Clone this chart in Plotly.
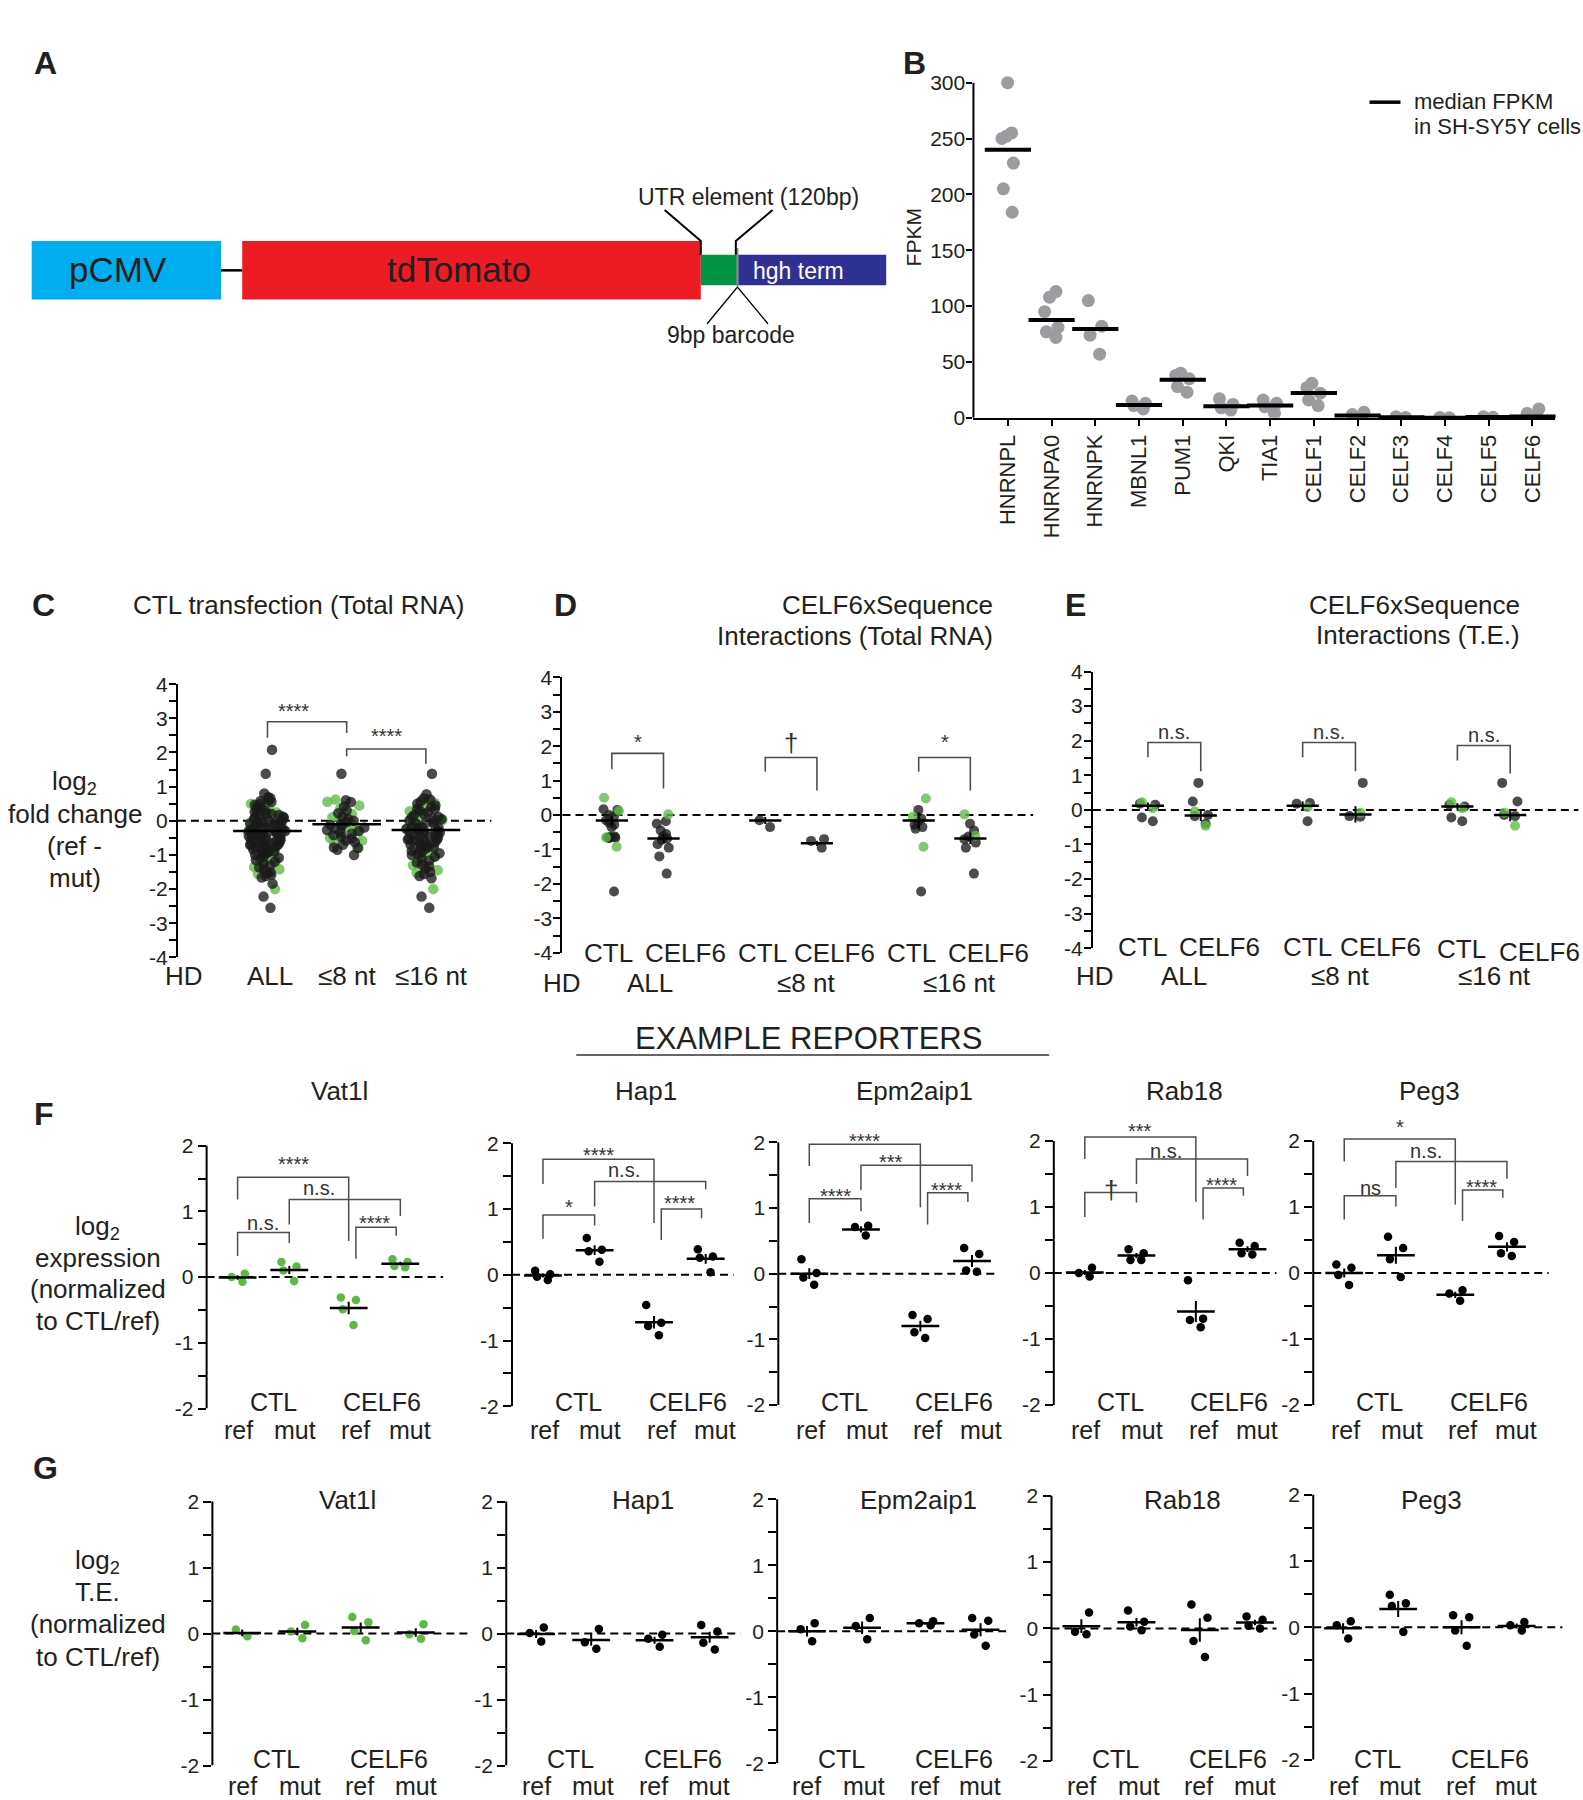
import numpy as np
import plotly.graph_objects as go

# ===================== DATA =====================
# Panel B
B_genes = ["HNRNPL", "HNRNPA0", "HNRNPK", "MBNL1", "PUM1", "QKI", "TIA1",
           "CELF1", "CELF2", "CELF3", "CELF4", "CELF5", "CELF6"]
B_fpkm = [
    [300, 255, 252, 250, 228, 205, 184],
    [113, 108, 95, 81, 77, 72],
    [105, 82, 74, 57],
    [15, 13, 11, 8],
    [40, 38, 35, 28, 23],
    [17, 12, 9, 7],
    [16, 13, 10, 4],
    [31, 27, 22, 16, 11],
    [5, 3, 1.5],
    [1.0, 0.3],
    [0.4, 0.1],
    [1.0, 0.5],
    [8, 4, 1],
]
B_median = [240, 87.5, 79.5, 11.6, 34, 10.4, 11, 22.3, 2, 0.5, 0.2, 0.8, 1.2]

# Panel C
C_groups = ["ALL", "≤8 nt", "≤16 nt"]
C_black = [
    [2.08, 1.38, 0.80, 0.70, 0.66, 0.60, 0.55, 0.50, 0.47, 0.41, 0.37, 0.33, 0.31, 0.26,
     0.22, 0.20, 0.17, 0.13, 0.11, 0.08, 0.06, 0.02, 0.00, -0.03, -0.04, -0.08, -0.10,
     -0.11, -0.15, -0.17, -0.19, -0.20, -0.23, -0.26, -0.27, -0.30, -0.31, -0.33, -0.36,
     -0.38, -0.40, -0.41, -0.44, -0.47, -0.48, -0.50, -0.52, -0.55, -0.57, -0.58, -0.61,
     -0.63, -0.66, -0.68, -0.70, -0.71, -0.74, -0.77, -0.80, -0.82, -0.85, -0.88, -0.90,
     -0.94, -0.97, -1.00, -1.04, -1.08, -1.10, -1.15, -1.20, -1.26, -1.30, -1.37, -1.43,
     -1.50, -1.53, -1.58, -1.62, -1.66, -1.84, -2.22, -2.55, 0.58, 0.12, -0.14, -0.35,
     -0.60, -0.90, -0.25, -0.45, -0.05, -0.65, -0.75],
    [1.38, 0.60, 0.55, 0.42, 0.30, 0.22, 0.12, 0.05, 0.00, -0.04, -0.10, -0.12, -0.16,
     -0.20, -0.23, -0.27, -0.30, -0.33, -0.38, -0.42, -0.47, -0.52, -0.58, -0.63, -0.70,
     -0.78, -0.80, -0.85, -1.00],
    [1.38, 0.78, 0.66, 0.62, 0.57, 0.50, 0.45, 0.40, 0.35, 0.30, 0.25, 0.20, 0.16, 0.12,
     0.08, 0.05, 0.01, -0.02, -0.05, -0.09, -0.12, -0.15, -0.18, -0.21, -0.24, -0.27,
     -0.30, -0.32, -0.35, -0.38, -0.40, -0.43, -0.46, -0.49, -0.52, -0.55, -0.58, -0.60,
     -0.63, -0.66, -0.69, -0.72, -0.75, -0.78, -0.81, -0.85, -0.88, -0.92, -0.96, -1.00,
     -1.05, -1.10, -1.16, -1.22, -1.28, -1.33, -1.40, -1.50, -1.56, -1.62, -1.68, -2.22,
     -2.55, 0.10, -0.20, -0.45, -0.70, -0.95, 0.35, -0.30, -0.55],
]
C_green = [
    [0.60, 0.50, 0.42, 0.30, 0.15, 0.05, -0.05, -0.18, -0.28, -0.40, -0.52, -0.63, -0.72,
     -0.86, -0.95, -1.05, -1.15, -1.25, -1.35, -1.42, -1.55, -2.00, 0.25, -0.35, -0.80],
    [0.62, 0.56, 0.45, 0.35, 0.20, 0.10, 0.02, -0.08, -0.18, -0.30, -0.40, -0.50, -0.58,
     -0.66, -0.78],
    [0.62, 0.52, 0.40, 0.28, 0.15, 0.02, -0.10, -0.22, -0.35, -0.45, -0.58, -0.70, -0.82,
     -0.93, -1.05, -1.18, -1.30, -1.45, -1.52, -2.00, 0.30, -0.60],
]
C_means = [-0.30, -0.10, -0.27]

# Panels D and E (order: CTL-ALL, CELF6-ALL, CTL-8, CELF6-8, CTL-16, CELF6-16)
DE_groups = ["ALL", "≤8 nt", "≤16 nt"]
DE_conditions = ["CTL", "CELF6"]
D_black = [
    [0.17, 0.15, 0.00, -0.05, -0.15, -0.22, -0.28, -0.35, -0.62, -0.64, -0.65, -0.66, -0.67, -2.22],
    [-0.18, -0.25, -0.45, -0.55, -0.62, -0.68, -0.72, -0.85, -0.95, -1.20, -1.70],
    [-0.15, -0.35],
    [-0.70, -0.75, -0.95],
    [0.15, -0.10, -0.20, -0.28, -0.35, -0.40, -2.22],
    [-0.25, -0.45, -0.62, -0.70, -0.80, -0.95, -1.70],
]
D_green = [[0.50, 0.12, -0.65, -0.92], [0.02], [], [], [0.48, -0.05, -0.92], [0.02, -0.60]]
D_means = [-0.16, -0.68, -0.16, -0.82, -0.16, -0.68]

E_black = [
    [0.18, 0.15, -0.22, -0.33],
    [0.78, 0.24, -0.15, -0.18, -0.40],
    [0.20, 0.18, -0.33],
    [0.78, -0.18, -0.20],
    [0.15, 0.10, -0.22, -0.33],
    [0.78, 0.24, -0.15, -0.18],
]
E_green = [[0.22, 0.05], [-0.05, -0.46], [0.08], [-0.08], [0.22, 0.05], [-0.08, -0.46]]
E_means = [0.12, -0.16, 0.12, -0.13, 0.10, -0.15]

# Panels F and G (order: CTL ref, CTL mut, CELF6 ref, CELF6 mut)
REPORTERS = ["Vat1l", "Hap1", "Epm2aip1", "Rab18", "Peg3"]
REP_groups = ["CTL", "CELF6"]
REP_alleles = ["ref", "mut", "ref", "mut"]
REP_is_green = [True, False, False, False, False]
F_values = [
    [[0.05, 0.00, -0.07], [0.23, 0.16, 0.10, -0.06], [-0.31, -0.35, -0.49, -0.73], [0.27, 0.23, 0.17, 0.15]],
    [[0.06, 0.01, -0.03, -0.08], [0.56, 0.36, 0.38, 0.20], [-0.46, -0.73, -0.78, -0.92], [0.39, 0.28, 0.26, 0.04]],
    [[0.22, 0.01, -0.06, -0.17], [0.73, 0.71, 0.58], [-0.63, -0.69, -0.89, -0.98], [0.39, 0.30, 0.05, 0.03]],
    [[0.08, 0.00, -0.05], [0.36, 0.30, 0.20, 0.20], [-0.11, -0.69, -0.71, -0.82], [0.46, 0.41, 0.30, 0.28]],
    [[0.13, 0.08, -0.03, -0.18], [0.55, 0.38, 0.21, -0.06], [-0.26, -0.31, -0.42], [0.56, 0.47, 0.30, 0.26]],
]
G_values = [
    [[0.06, -0.04], [0.13, 0.03, -0.07], [0.25, 0.17, 0.04, -0.10], [0.14, -0.01, -0.08]],
    [[0.09, 0.01, -0.12], [0.07, -0.13, -0.23], [-0.02, -0.08, -0.20], [0.13, 0.03, -0.14, -0.24]],
    [[0.12, 0.03, -0.15], [0.20, 0.08, -0.12], [0.15, 0.12, 0.09], [0.20, 0.16, -0.05, -0.22]],
    [[0.24, -0.05, -0.09], [0.27, 0.10, 0.03, -0.03], [0.36, 0.16, -0.19, -0.43], [0.18, 0.13, 0.04, 0.00]],
    [[0.09, 0.03, -0.17], [0.49, 0.36, 0.32, -0.07], [0.18, 0.15, -0.05, -0.28], [0.08, 0.03, -0.05]],
]

# significance brackets: (from, to, top, left end, right end, label, label centre y, label between)
C_brackets = [(0, 1, 2.90, 2.43, 2.57, "****", 3.34, (0, 1)),
              (1, 2, 2.10, 1.89, 1.67, "****", 2.60, (1, 2))]
D_brackets = [(0, 1, 1.79, 1.33, 0.77, "*", 2.25, (0, 1)),
              (2, 3, 1.67, 1.26, 0.71, "†", 2.08, (2, 3)),
              (4, 5, 1.67, 1.26, 0.71, "*", 2.25, (4, 5))]
E_brackets = [(0, 1, 1.95, 1.52, 1.12, "n.s.", 2.24, (0, 1)),
              (2, 3, 1.95, 1.52, 1.12, "n.s.", 2.24, (2, 3)),
              (4, 5, 1.86, 1.43, 1.05, "n.s.", 2.17, (4, 5))]
F_brackets = [
    [(0, 2, 1.52, 1.18, 0.55, "****", 1.78, (0, 2)), (1, 3, 1.18, 0.80, 0.93, "n.s.", 1.35, (1, 2)),
     (0, 1, 0.68, 0.32, 0.52, "n.s.", 0.82, (0, 1)), (2, 3, 0.76, 0.28, 0.63, "****", 0.88, (2, 3))],
    [(0, 2, 1.76, 1.38, 0.79, "****", 1.89, (0, 2)), (1, 3, 1.42, 1.04, 1.30, "n.s.", 1.59, (1, 2)),
     (0, 1, 0.91, 0.55, 0.75, "*", 1.09, (0, 1)), (2, 3, 1.00, 0.53, 0.86, "****", 1.15, (2, 3))],
    [(0, 2, 1.97, 1.64, 1.01, "****", 2.08, (0, 2)), (1, 3, 1.65, 1.27, 1.40, "***", 1.76, (1, 2)),
     (0, 1, 1.14, 0.77, 0.95, "****", 1.25, (0, 1)), (2, 3, 1.23, 0.75, 1.09, "****", 1.34, (2, 3))],
    [(0, 2, 2.06, 1.73, 1.08, "***", 2.22, (0, 2)), (1, 3, 1.73, 1.35, 1.47, "n.s.", 1.85, (1, 2)),
     (0, 1, 1.22, 0.85, 1.07, "†", 1.26, (0, 1)), (2, 3, 1.29, 0.81, 1.17, "****", 1.40, (2, 3))],
    [(0, 2, 2.03, 1.69, 1.04, "*", 2.27, (0, 2)), (1, 3, 1.69, 1.29, 1.43, "n.s.", 1.85, (1, 2)),
     (0, 1, 1.17, 0.81, 1.01, "ns", 1.29, (0, 1)), (2, 3, 1.26, 0.79, 1.14, "****", 1.37, (2, 3))],
]

# ===================== STYLE / LAYOUT HELPERS =====================
FONT = "Liberation Sans, Arial, Helvetica, sans-serif"
INK = "#231f20"
BLACK_PT = "rgba(25,25,25,0.78)"
GREEN_PT = "rgba(98,188,72,0.80)"
GREEN_F = "#5db848"
GRAY_B = "#9a9c9f"
BRK = "#4d4d4d"
RW, RH = 1379.0, 1568.0   # layout positions are given in this reference frame


def PX(x):
    return x / RW


def PY(y):
    return 1.0 - y / RH


fig = go.Figure()
layout_axes, annotations, shapes = {}, [], []
n_axes = [0]


def ann(text, x, y, size=26, xanchor="center", yanchor="middle", color=INK,
        xref="paper", yref="paper", textangle=0, yshift=0, bold=False):
    annotations.append(dict(
        text=f"<b>{text}</b>" if bold else text,
        x=PX(x) if xref == "paper" else x, y=PY(y) if yref == "paper" else y,
        xref=xref, yref=yref, xanchor=xanchor, yanchor=yanchor, showarrow=False,
        font=dict(family=FONT, size=size, color=color), textangle=textangle,
        yshift=yshift, borderpad=0))


def new_axes(xl, xr_, yt, yb, xrange, yrange, yticks, yminor=None, tick_size=21,
             xextra=None, ytop_extra=0.0, yticklen=8, standoff=0):
    """yt/yb: pixel rows of yrange ends. ytop_extra: extra data headroom above yrange[1]
    (the axis line is then drawn as a shape so it still stops at yrange[1])."""
    n_axes[0] += 1
    s = "" if n_axes[0] == 1 else str(n_axes[0])
    ppu = (yb - yt) / (yrange[1] - yrange[0])
    xa = dict(domain=[PX(xl), PX(xr_)], range=xrange, anchor="y" + s, type="linear",
              visible=False, showgrid=False, zeroline=False, fixedrange=True,
              automargin=False)
    if xextra:
        xa.update(xextra)
    ya = dict(domain=[PY(yb), PY(yt - ytop_extra * ppu)],
              range=[yrange[0], yrange[1] + ytop_extra], anchor="x" + s, type="linear",
              showgrid=False, zeroline=False, showline=(ytop_extra == 0),
              linecolor="black", linewidth=2,
              ticks="outside", ticklen=yticklen, tickwidth=2, tickcolor="black",
              tickmode="array", tickvals=yticks, ticktext=[f"{v:g}" for v in yticks],
              tickfont=dict(family=FONT, size=tick_size, color=INK), fixedrange=True,
              automargin=False, ticklabelstandoff=standoff)
    if yminor:
        ya["minor"] = dict(tickmode="linear", tick0=0, dtick=yminor, ticks="outside",
                           ticklen=yticklen, tickwidth=2, tickcolor="black")
    layout_axes["xaxis" + s] = xa
    layout_axes["yaxis" + s] = ya
    if ytop_extra:
        shapes.append(dict(type="line", xref=f"x{s} domain", yref="y" + s, x0=0, x1=0,
                           y0=yrange[0], y1=yrange[1], line=dict(color="black", width=2)))
    return "x" + s, "y" + s


def xrange_from(px_left, px_right, px_zero, unit):
    return [(px_left - px_zero) / unit, (px_right - px_zero) / unit]


def strip(xa, ya, pos, vals, color, size, width, jitter):
    if len(vals) == 0:
        return
    fig.add_trace(go.Box(
        x=[pos] * len(vals), y=vals, xaxis=xa, yaxis=ya, boxpoints="all", jitter=jitter,
        pointpos=0, width=width, fillcolor="rgba(0,0,0,0)",
        line=dict(width=0, color="rgba(0,0,0,0)"),
        marker=dict(color=color, size=size, line=dict(width=0)),
        hoverinfo="skip", showlegend=False))


def mean_mark(xa, ya, pos, m, sem, length, thick=2.5):
    fig.add_trace(go.Scatter(
        x=[pos], y=[m], xaxis=xa, yaxis=ya, mode="markers",
        marker=dict(symbol="line-ew-open", size=length, color="black",
                    line=dict(width=thick, color="black")),
        error_y=(dict(type="data", array=[sem], width=0, thickness=2, color="black")
                 if sem is not None else None),
        cliponaxis=False, hoverinfo="skip", showlegend=False))


def zero_line(xa, ya):
    shapes.append(dict(type="line", xref=f"{xa} domain", yref=ya, x0=0, x1=1, y0=0, y1=0,
                       line=dict(color="black", width=2, dash="8px,5px"), layer="below"))


def bracket(xa, ya, x1, x2, top, yl, yr, width=1.6):
    shapes.append(dict(type="path", xref=xa, yref=ya,
                       path=f"M {x1},{yl} L {x1},{top} L {x2},{top} L {x2},{yr}",
                       line=dict(color=BRK, width=width)))


def sig_label(xa, ya, x, y, label):
    size = 20
    shift = 0
    if set(label) == {"*"}:
        shift = -4
    elif label == "†":
        size = 26
    ann(label, x, y, size=size, xref=xa, yref=ya, yshift=shift, color="#333333")


def sem_of(v):
    v = np.asarray(v, dtype=float)
    return float(v.std(ddof=1) / np.sqrt(len(v))) if len(v) > 1 else 0.0


# ===================== PANEL A (construct schematic) =====================
def rect(x0, y0, x1, y1, color):
    shapes.append(dict(type="rect", xref="paper", yref="paper", x0=PX(x0), x1=PX(x1),
                       y0=PY(y1), y1=PY(y0), fillcolor=color, line=dict(width=0)))


def polyline(pts, color="black", width=2):
    p = "M " + " L ".join(f"{PX(a)},{PY(b)}" for a, b in pts)
    shapes.append(dict(type="path", xref="paper", yref="paper", path=p,
                       line=dict(color=color, width=width)))


rect(27.6, 210, 192.5, 261, "#00aeef")
polyline([(192.5, 235.5), (211, 235.5)], width=2.5)
rect(211, 210, 610.5, 261, "#ed1c24")
rect(610.5, 222, 642, 248.5, "#009444")
rect(643, 222, 772, 248.5, "#2e3192")
polyline([(642.4, 216), (642.4, 249)], color="#8c8c8c", width=2)
polyline([(579, 183), (610.5, 210), (610.5, 222)], width=2)
polyline([(673, 183), (641, 210), (641, 222)], width=2)
polyline([(616, 282), (642.4, 250), (669, 282)], width=1.3)
ann("pCMV", 103, 235, size=35)
ann("tdTomato", 400, 235, size=35)
ann("hgh term", 696, 236, size=23, color="white")
ann("UTR element (120bp)", 652, 172, size=23)
ann("9bp barcode", 637, 292, size=23)

# ===================== PANEL B =====================
b_unit = 38.08
xb, yb = new_axes(848, 1355, 72, 364, xrange_from(848, 1355, 878, b_unit), [0, 300],
                  list(range(0, 301, 50)), tick_size=21, ytop_extra=8, yticklen=6,
                  standoff=-3,
                  xextra=dict(visible=True, showline=True, linecolor="black", linewidth=2,
                              ticks="outside", ticklen=6, tickwidth=2, tickcolor="black",
                              tickmode="array", tickvals=list(range(len(B_genes))),
                              ticktext=B_genes, tickangle=-90,
                              tickfont=dict(family=FONT, size=22, color=INK)))
for i, vals in enumerate(B_fpkm):
    strip(xb, yb, i, vals, GRAY_B, 13, 0.42, 0.9)
for i, m in enumerate(B_median):
    mean_mark(xb, yb, i, m, None, 33, thick=4)
ann("FPKM", 796, 207, size=21, textangle=-90)
polyline([(1193, 89), (1220, 89)], width=3.5)
ann("median FPKM", 1231, 88, size=22, xanchor="left")
ann("in SH-SY5Y cells", 1231, 110, size=22, xanchor="left")

# ===================== PANEL C =====================
c_unit = 69.0
xc, yc = new_axes(155, 428, 596, 834, xrange_from(155, 428, 233, c_unit), [-4, 4],
                  list(range(-4, 5)), yminor=0.5, yticklen=7, standoff=-3)
zero_line(xc, yc)
for g in range(3):
    strip(xc, yc, g, C_green[g], GREEN_PT, 10.5, 0.6, 0.85)
    strip(xc, yc, g, C_black[g], BLACK_PT, 10.5, 0.6, 0.85)
    mean_mark(xc, yc, g, C_means[g], None, 49, thick=2.5)
for (i, j, top, yl, yr, lab, ly, lb) in C_brackets:
    bracket(xc, yc, i, j, top, yl, yr)
    lx = (lb[0] + lb[1]) / 2.0 - (0.17 if lb == (0, 1) else 0.0)
    sig_label(xc, yc, lx, ly, lab)
ann("CTL transfection (Total RNA)", 260, 527, size=26)
for k, txt in enumerate(["log<sub>2</sub>", "fold change", "(ref -", "mut)"]):
    ann(txt, 65, [682, 709, 737, 765][k], size=26)
ann("HD", 160, 850, size=26)
for g, name in enumerate(C_groups):
    ann(name, [235, 302, 376][g], 850, size=26)


# ===================== PANELS D and E =====================
def de_panel(axis_x, right_x, y4, ym4, first_px, unit, gap, black, green, means, brks,
             cond_xy, group_xy, hd_xy, title_lines, title_right, title_ys):
    xa, ya = new_axes(axis_x, right_x, y4, ym4, xrange_from(axis_x, right_x, first_px, unit),
                      [-4, 4], list(range(-4, 5)), yminor=0.5, yticklen=7, standoff=-3)
    zero_line(xa, ya)
    pos = [g * gap + c for g in range(3) for c in range(2)]
    for k in range(6):
        strip(xa, ya, pos[k], black[k], BLACK_PT, 10, 0.42, 0.85)
        strip(xa, ya, pos[k], green[k], GREEN_PT, 10, 0.42, 0.85)
        mean_mark(xa, ya, pos[k], means[k], sem_of(black[k] + green[k]), 23)
    for (i, j, top, yl, yr, lab, ly, lb) in brks:
        bracket(xa, ya, pos[i], pos[j], top, yl, yr)
        sig_label(xa, ya, (pos[lb[0]] + pos[lb[1]]) / 2.0, ly, lab)
    for k, (cx, cy) in enumerate(cond_xy):
        ann(DE_conditions[k % 2], cx, cy, size=26)
    for g, (gx, gy) in enumerate(group_xy):
        ann(DE_groups[g], gx, gy, size=26)
    ann("HD", hd_xy[0], hd_xy[1], size=26)
    for t, ty in zip(title_lines, title_ys):
        ann(t, title_right, ty, size=26, xanchor="right")


de_panel(490, 900, 590, 830, 533, 45.0, 2.97, D_black, D_green, D_means, D_brackets,
         [(530, 830), (597, 830), (664, 830), (727, 830), (794, 830), (861, 830)],
         [(566, 856), (702, 856), (836, 856)], (490, 856),
         ["CELF6xSequence", "Interactions (Total RNA)"], 866, [527, 554])
de_panel(952, 1375, 585, 826, 1000, 46.0, 2.93, E_black, E_green, E_means, E_brackets,
         [(995, 825), (1062, 825), (1139, 825), (1203, 825), (1273, 827), (1341, 829)],
         [(1031, 850), (1167, 850), (1302, 850)], (954, 850),
         ["CELF6xSequence", "Interactions (T.E.)"], 1325, [527, 553])

# ===================== EXAMPLE REPORTERS header =====================
ann("EXAMPLE REPORTERS", 704, 905, size=31)
polyline([(502, 919), (914, 919)], color="#333333", width=1.5)

# ===================== PANELS F and G =====================
REP_pos = [0.0, 1.0, 2.15, 3.15]
F_axis_x = [180, 446, 678, 918, 1144]
F_right = [386, 639, 870, 1112, 1349]
F_top = [998, 996, 995, 994, 994]
F_bot = [1227, 1225, 1224, 1224, 1224]
G_axis_x = [185, 441, 677, 916, 1144]
G_right = [411, 645, 880, 1112, 1361]
G_top = [1308, 1308, 1306, 1303, 1302]
G_bot = [1538, 1538, 1536, 1534, 1533]
F_title_x = [296, 563, 797, 1032, 1245]
G_title_x = [303, 560, 800, 1030, 1247]


def reporter_panel(k, values, axis_x, right_x, top, bot, first_off, unit, brks,
                   title_xy, lab_rows, lab_offs, grp_offs):
    xa, ya = new_axes(axis_x, right_x, top, bot,
                      xrange_from(axis_x, right_x, axis_x + first_off, unit),
                      [-2, 2], [-2, -1, 0, 1, 2], yminor=0.5, ytop_extra=0.45)
    zero_line(xa, ya)
    col = GREEN_F if REP_is_green[k] else "black"
    for c in range(4):
        strip(xa, ya, REP_pos[c], values[c], col, 8.5, 0.45, 0.8)
        mean_mark(xa, ya, REP_pos[c], float(np.mean(values[c])), sem_of(values[c]), 27)
    if brks:
        for (i, j, tp, yl, yr, lab, ly, lb) in brks:
            dl, dr = (0.14, -0.08) if (i, j) == (2, 3) else (0.0, 0.0)
            bracket(xa, ya, REP_pos[i] + dl, REP_pos[j] + dr, tp, yl, yr, width=1.5)
            sig_label(xa, ya, (REP_pos[lb[0]] + REP_pos[lb[1]]) / 2.0, ly, lab)
    ann(REPORTERS[k], title_xy[0], title_xy[1], size=26)
    for g in range(2):
        ann(REP_groups[g], axis_x + grp_offs[g], lab_rows[0], size=25)
    for c in range(4):
        ann(REP_alleles[c], axis_x + lab_offs[c], lab_rows[1], size=25)


for k in range(5):
    reporter_panel(k, F_values[k], F_axis_x[k], F_right[k], F_top[k], F_bot[k], 27, 45.0,
                   F_brackets[k], (F_title_x[k], 950), (1221, 1246),
                   [28, 77, 130, 177], [58, 153])
for k in range(5):
    reporter_panel(k, G_values[k], G_axis_x[k], G_right[k], G_top[k], G_bot[k], 26, 48.0,
                   None, (G_title_x[k], 1307), (1532, 1556),
                   [26, 76, 128, 177], [56, 154])

for k, txt in enumerate(["log<sub>2</sub>", "expression", "(normalized", "to CTL/ref)"]):
    ann(txt, 85, [1069, 1096, 1123, 1151][k], size=26)
for k, txt in enumerate(["log<sub>2</sub>", "T.E.", "(normalized", "to CTL/ref)"]):
    ann(txt, 85, [1360, 1387, 1415, 1443][k], size=26)

# ===================== panel letters =====================
for letter, lx, ly in [("A", 40, 55), ("B", 797, 55), ("C", 38, 527), ("D", 493, 527),
                       ("E", 937, 527), ("F", 38, 970), ("G", 40, 1279)]:
    ann(letter, lx, ly, size=32, bold=True)

fig.update_layout(
    template="none",
    width=1583, height=1800, autosize=False,
    margin=dict(l=0, r=0, t=0, b=0, pad=0, autoexpand=False),
    paper_bgcolor="white", plot_bgcolor="rgba(0,0,0,0)",
    showlegend=False, boxmode="overlay",
    font=dict(family=FONT, color=INK),
    annotations=annotations, shapes=shapes,
    **layout_axes,
)

fig.write_html("out.html", config={"displayModeBar": False, "staticPlot": True},
               post_script="document.body.style.margin='0';")
